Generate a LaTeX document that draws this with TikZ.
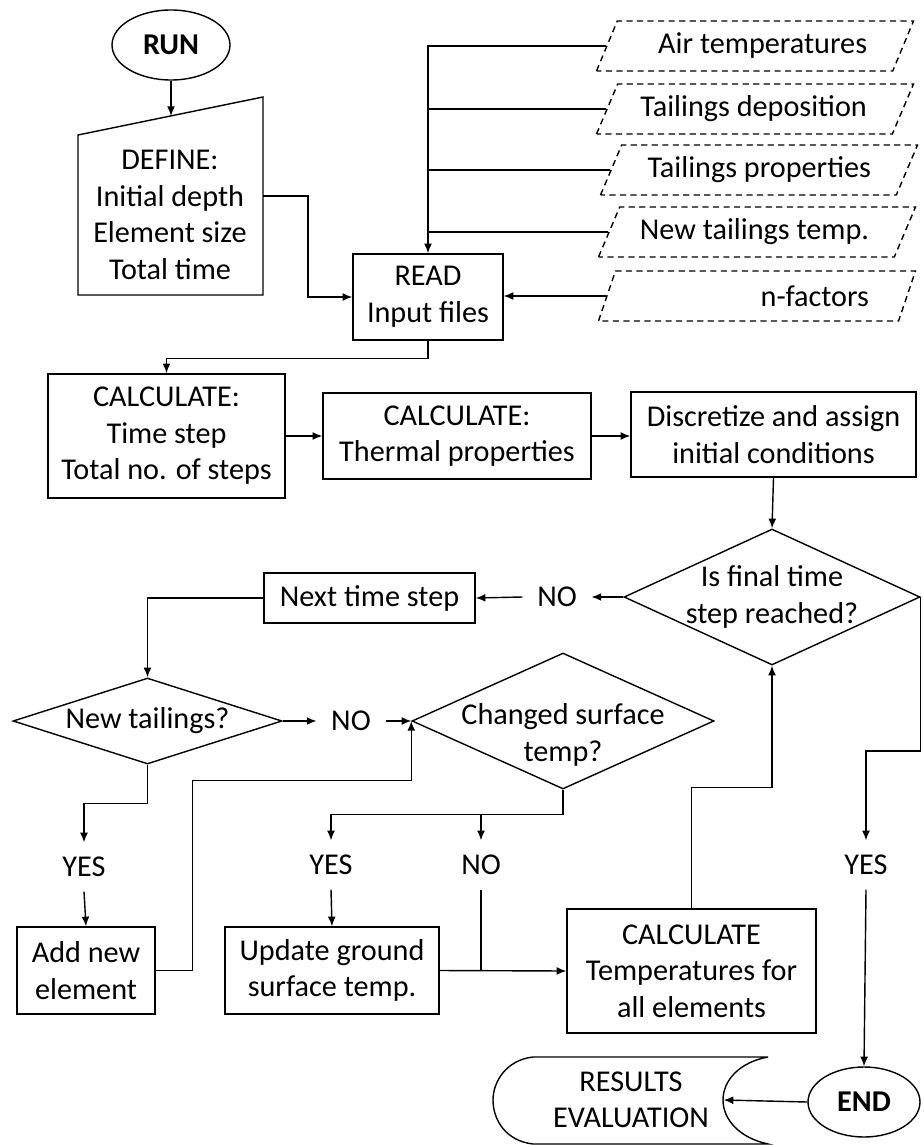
\documentclass[tikz,border=0pt]{standalone}
\usepackage{fontspec}
\setmainfont{Carlito}
\usetikzlibrary{arrows.meta,shapes.geometric}
\newcommand{\px}{0.02cm}
\newlength{\pxl}
\setlength{\pxl}{0.02cm}
\newcommand{\filetext}[1]{\makebox[224\pxl][r]{#1}}

\begin{document}
\begin{tikzpicture}[x=0.02cm,y=-0.02cm,line width=0.8pt,
    every node/.style={font=\fontsize{17.2}{20.8}\selectfont,align=center,inner sep=0pt},
    >={Latex[length=5.5pt,width=4.5pt]},
    box/.style={draw,rectangle},
    decision/.style={draw,diamond},
    terminal/.style={draw,ellipse,font=\fontsize{17.2}{20.8}\selectfont\bfseries},
    datafile/.style={draw,dash pattern=on 3.5pt off 2.5pt,trapezium,
        trapezium left angle=51,trapezium right angle=129,trapezium stretches body,
        minimum width=317*\px,minimum height=50*\px},
    answer/.style={inner sep=8pt}]
    \useasboundingbox (0,0) rectangle (923,1145);

    \node[terminal,minimum width=118*\px,minimum height=70*\px] (run) at (171,45) {RUN};
    \draw (78,135) -- (263,97) -- (263,295) -- (78,295) -- cycle;
    \node (define) at (170,215) {DEFINE:\\Initial depth\\Element size\\Total time};
    \coordinate (defin) at (171,116);
    \coordinate (defout) at (263,196);
    \node[box,minimum width=150*\px,minimum height=86*\px] (read) at (428,297) {READ\\Input files};

    \node[datafile] (air) at (755,46) {\filetext{Air temperatures}};
    \node[datafile] (depo) at (755,109) {\filetext{Tailings deposition}};
    \node[datafile] (prop) at (759,170) {\filetext{Tailings properties}};
    \node[datafile] (newtemp) at (757,232) {\filetext{New tailings temp.}};
    \node[datafile] (nfac) at (757,296) {\filetext{n-factors}};

    \node[box,minimum width=237*\px,minimum height=124*\px] (calcstep) at (166.5,436) {CALCULATE:\\Time step\\Total no. of steps};
    \node[box,minimum width=268*\px,minimum height=86*\px] (calcprop) at (457,436) {CALCULATE:\\Thermal properties};
    \node[box,minimum width=285*\px,minimum height=85*\px] (disc) at (773.5,434.5) {Discretize and assign\\initial conditions};

    \node[decision,inner sep=-8pt,aspect=2.18,minimum width=296*\px,minimum height=136*\px] (final) at (772,597) {Is final time\\step reached?};
    \node[answer] (no1) at (557,597) {NO};
    \node[box,minimum width=211*\px,minimum height=50*\px] (next) at (369.5,598) {Next time step};

    \node[decision,aspect=3.13,minimum width=269*\px,minimum height=86*\px] (newt) at (147.5,721) {New tailings?};
    \node[answer] (no2) at (351,721) {NO};
    \node[decision,inner sep=-10pt,aspect=2.22,minimum width=302*\px,minimum height=136*\px] (chg) at (563,721) {\rule{0pt}{28pt}Changed surface\\temp?};

    \node[answer] (yes1) at (84,867) {YES};
    \node[answer] (yes2) at (331,865) {YES};
    \node[answer] (no3) at (481,865) {NO};
    \node[answer] (yes3) at (866,865) {YES};

    \node[box,minimum width=138*\px,minimum height=87*\px] (add) at (86,970.5) {Add new\\element};
    \node[box,minimum width=214*\px,minimum height=87*\px] (upd) at (332,970.5) {Update ground\\surface temp.};
    \node[box,minimum width=249*\px,minimum height=124*\px] (calctemp) at (691.5,971) {CALCULATE\\Temperatures for\\all elements};

    \node[terminal,minimum width=112*\px,minimum height=70*\px] (endn) at (864,1102) {END};
    \draw (768,1057) -- (533,1057) .. controls (506,1060) and (493,1082) .. (493,1100)
        .. controls (493,1120) and (506,1141) .. (533,1144) -- (768,1144)
        .. controls (740,1138) and (723,1120) .. (723,1100)
        .. controls (723,1080) and (740,1062) .. (768,1057);
    \node[minimum width=184*\px] (results) at (631,1100) {RESULTS\\EVALUATION};

    \draw[->] (run) -- (defin);
    \draw[->] (defout) -- ++(45,0) |- (read.west);
    \draw[->] (air.west) -| (read.north);
    \draw (depo.west) -- (depo.west -| read.north);
    \draw (prop.west) -- (prop.west -| read.north);
    \draw (newtemp.west) -- (newtemp.west -| read.north);
    \draw[->] (nfac.west) -- (nfac.west -| read.east);
    \draw[->] (read.south) -- ++(0,18) -| (calcstep.north);
    \draw[->] (calcstep.east) -- (calcstep.east -| calcprop.west);
    \draw[->] (calcprop.east) -- (calcprop.east -| disc.west);
    \draw[->] (disc.south) -- (final.north);
    \draw[->] (final.west) -- (no1.east);
    \draw[->] (no1.west) -- (next.east);
    \draw[->] (next.west) -| (newt.north);
    \draw[->] (newt.east) -- (no2.west);
    \draw[->] (no2.east) -- (chg.west);
    \draw[->] (newt.south) -- ++(0,39) -| (yes1.north);
    \draw[->] (yes1.south) -- (add.north);
    \draw[->] (add.east) -- ++(37,0) -- ++(0,-190) -| (chg.west);
    \draw[->] (chg.south) -- ++(0,25) coordinate (chgsplit) -| (yes2.north);
    \draw[->] (chgsplit) -| (no3.north);
    \draw[->] (yes2.south) -- (upd.north);
    \draw (no3.south) -- (no3.south |- calctemp.west);
    \draw[->] (upd.east) -- (calctemp.west);
    \draw[->] (calctemp.north) -- ++(0,-121) -| (final.south);
    \draw[->] (final.east) -- ++(0,154) -| (yes3.north);
    \draw[->] (yes3.south) -- (endn.north);
    \draw[->] (endn.west) -- (results.east);
\end{tikzpicture}
\end{document}
